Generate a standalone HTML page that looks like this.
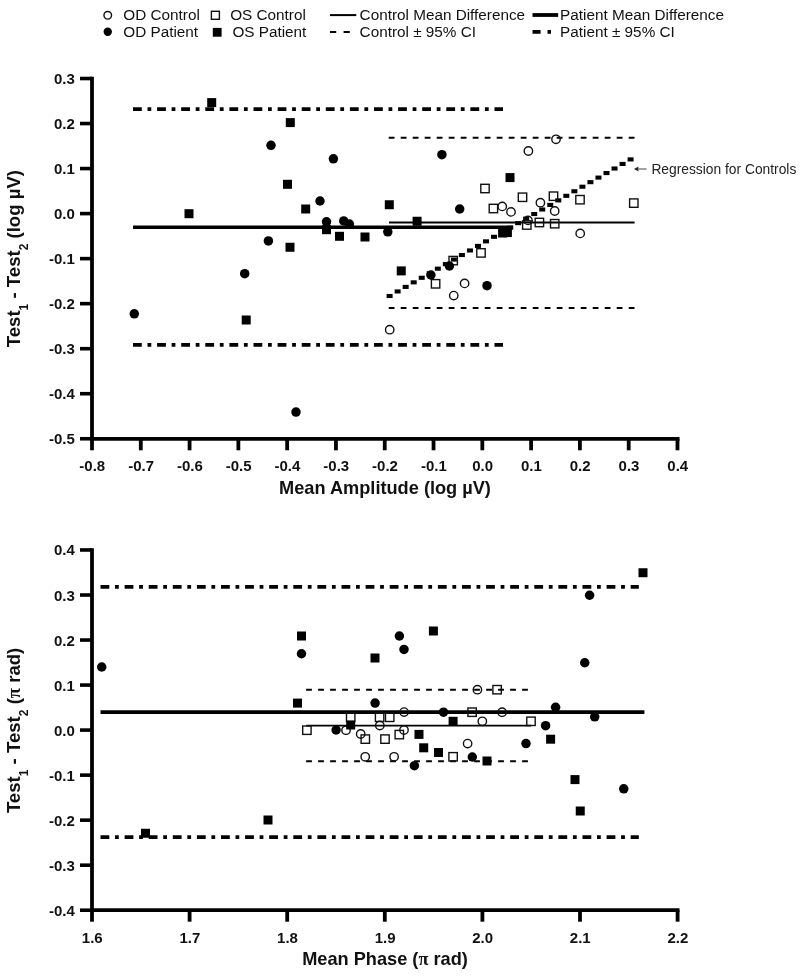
<!DOCTYPE html>
<html><head><meta charset="utf-8"><title>Bland-Altman plots</title>
<style>
html,body{margin:0;padding:0;background:#fff;}
body{width:800px;height:976px;overflow:hidden;}
svg{display:block;font-family:"Liberation Sans", sans-serif;will-change:transform;}
</style></head>
<body>
<svg width="800" height="976" viewBox="0 0 800 976">
<rect width="800" height="976" fill="#fff"/>
<circle cx="107.75" cy="15.30" r="3.8" fill="none" stroke="#111" stroke-width="1.4"/>
<circle cx="107.75" cy="31.80" r="4.2" fill="#000"/>
<text x="123.30" y="19.80" font-size="15.3" font-weight="normal" text-anchor="start" fill="#111">OD Control</text>
<text x="123.30" y="36.50" font-size="15.3" font-weight="normal" text-anchor="start" fill="#111">OD Patient</text>
<rect x="211.40" y="11.30" width="8.0" height="8.0" fill="none" stroke="#111" stroke-width="1.4"/>
<rect x="212.80" y="27.90" width="8.8" height="8.8" fill="#000"/>
<text x="230.20" y="19.80" font-size="15.3" font-weight="normal" text-anchor="start" fill="#111">OS Control</text>
<text x="232.40" y="36.50" font-size="15.3" font-weight="normal" text-anchor="start" fill="#111">OS Patient</text>
<line x1="330.00" y1="15.10" x2="356.30" y2="15.10" stroke="#000" stroke-width="2.0" stroke-linecap="butt"/>
<line x1="330.00" y1="31.90" x2="350.00" y2="31.90" stroke="#000" stroke-width="2.0" stroke-linecap="butt" stroke-dasharray="6.2 7.4"/>
<text x="359.60" y="19.80" font-size="15.3" font-weight="normal" text-anchor="start" fill="#111">Control Mean Difference</text>
<text x="359.60" y="36.50" font-size="15.3" font-weight="normal" text-anchor="start" fill="#111">Control ± 95% CI</text>
<line x1="532.50" y1="15.00" x2="558.20" y2="15.00" stroke="#000" stroke-width="3.8" stroke-linecap="butt"/>
<line x1="532.50" y1="31.90" x2="551.20" y2="31.90" stroke="#000" stroke-width="3.8" stroke-linecap="butt" stroke-dasharray="8.1 6.9 3.5 10"/>
<text x="560.10" y="19.80" font-size="15.3" font-weight="normal" text-anchor="start" fill="#111">Patient Mean Difference</text>
<text x="560.10" y="36.50" font-size="15.3" font-weight="normal" text-anchor="start" fill="#111">Patient ± 95% CI</text>
<line x1="92.00" y1="76.70" x2="92.00" y2="440.70" stroke="#000" stroke-width="3.8" stroke-linecap="butt"/>
<line x1="80.00" y1="78.51" x2="92.00" y2="78.51" stroke="#000" stroke-width="3.6" stroke-linecap="butt"/>
<text x="74.80" y="84.01" font-size="15" font-weight="bold" text-anchor="end" fill="#111">0.3</text>
<line x1="80.00" y1="123.54" x2="92.00" y2="123.54" stroke="#000" stroke-width="3.6" stroke-linecap="butt"/>
<text x="74.80" y="129.04" font-size="15" font-weight="bold" text-anchor="end" fill="#111">0.2</text>
<line x1="80.00" y1="168.57" x2="92.00" y2="168.57" stroke="#000" stroke-width="3.6" stroke-linecap="butt"/>
<text x="74.80" y="174.07" font-size="15" font-weight="bold" text-anchor="end" fill="#111">0.1</text>
<line x1="80.00" y1="213.60" x2="92.00" y2="213.60" stroke="#000" stroke-width="3.6" stroke-linecap="butt"/>
<text x="74.80" y="219.10" font-size="15" font-weight="bold" text-anchor="end" fill="#111">0.0</text>
<line x1="80.00" y1="258.63" x2="92.00" y2="258.63" stroke="#000" stroke-width="3.6" stroke-linecap="butt"/>
<text x="74.80" y="264.13" font-size="15" font-weight="bold" text-anchor="end" fill="#111">-0.1</text>
<line x1="80.00" y1="303.66" x2="92.00" y2="303.66" stroke="#000" stroke-width="3.6" stroke-linecap="butt"/>
<text x="74.80" y="309.16" font-size="15" font-weight="bold" text-anchor="end" fill="#111">-0.2</text>
<line x1="80.00" y1="348.69" x2="92.00" y2="348.69" stroke="#000" stroke-width="3.6" stroke-linecap="butt"/>
<text x="74.80" y="354.19" font-size="15" font-weight="bold" text-anchor="end" fill="#111">-0.3</text>
<line x1="80.00" y1="393.72" x2="92.00" y2="393.72" stroke="#000" stroke-width="3.6" stroke-linecap="butt"/>
<text x="74.80" y="399.22" font-size="15" font-weight="bold" text-anchor="end" fill="#111">-0.4</text>
<line x1="80.00" y1="438.75" x2="92.00" y2="438.75" stroke="#000" stroke-width="3.6" stroke-linecap="butt"/>
<text x="74.80" y="444.25" font-size="15" font-weight="bold" text-anchor="end" fill="#111">-0.5</text>
<line x1="90.10" y1="438.80" x2="679.50" y2="438.80" stroke="#000" stroke-width="3.8" stroke-linecap="butt"/>
<line x1="92.00" y1="438.80" x2="92.00" y2="450.30" stroke="#000" stroke-width="3.8" stroke-linecap="butt"/>
<text x="92.30" y="471.40" font-size="15" font-weight="bold" text-anchor="middle" fill="#111">-0.8</text>
<line x1="140.79" y1="438.80" x2="140.79" y2="450.30" stroke="#000" stroke-width="3.8" stroke-linecap="butt"/>
<text x="141.09" y="471.40" font-size="15" font-weight="bold" text-anchor="middle" fill="#111">-0.7</text>
<line x1="189.58" y1="438.80" x2="189.58" y2="450.30" stroke="#000" stroke-width="3.8" stroke-linecap="butt"/>
<text x="189.88" y="471.40" font-size="15" font-weight="bold" text-anchor="middle" fill="#111">-0.6</text>
<line x1="238.37" y1="438.80" x2="238.37" y2="450.30" stroke="#000" stroke-width="3.8" stroke-linecap="butt"/>
<text x="238.67" y="471.40" font-size="15" font-weight="bold" text-anchor="middle" fill="#111">-0.5</text>
<line x1="287.16" y1="438.80" x2="287.16" y2="450.30" stroke="#000" stroke-width="3.8" stroke-linecap="butt"/>
<text x="287.46" y="471.40" font-size="15" font-weight="bold" text-anchor="middle" fill="#111">-0.4</text>
<line x1="335.95" y1="438.80" x2="335.95" y2="450.30" stroke="#000" stroke-width="3.8" stroke-linecap="butt"/>
<text x="336.25" y="471.40" font-size="15" font-weight="bold" text-anchor="middle" fill="#111">-0.3</text>
<line x1="384.74" y1="438.80" x2="384.74" y2="450.30" stroke="#000" stroke-width="3.8" stroke-linecap="butt"/>
<text x="385.04" y="471.40" font-size="15" font-weight="bold" text-anchor="middle" fill="#111">-0.2</text>
<line x1="433.53" y1="438.80" x2="433.53" y2="450.30" stroke="#000" stroke-width="3.8" stroke-linecap="butt"/>
<text x="433.83" y="471.40" font-size="15" font-weight="bold" text-anchor="middle" fill="#111">-0.1</text>
<line x1="482.32" y1="438.80" x2="482.32" y2="450.30" stroke="#000" stroke-width="3.8" stroke-linecap="butt"/>
<text x="482.62" y="471.40" font-size="15" font-weight="bold" text-anchor="middle" fill="#111">0.0</text>
<line x1="531.11" y1="438.80" x2="531.11" y2="450.30" stroke="#000" stroke-width="3.8" stroke-linecap="butt"/>
<text x="531.41" y="471.40" font-size="15" font-weight="bold" text-anchor="middle" fill="#111">0.1</text>
<line x1="579.90" y1="438.80" x2="579.90" y2="450.30" stroke="#000" stroke-width="3.8" stroke-linecap="butt"/>
<text x="580.20" y="471.40" font-size="15" font-weight="bold" text-anchor="middle" fill="#111">0.2</text>
<line x1="628.69" y1="438.80" x2="628.69" y2="450.30" stroke="#000" stroke-width="3.8" stroke-linecap="butt"/>
<text x="628.99" y="471.40" font-size="15" font-weight="bold" text-anchor="middle" fill="#111">0.3</text>
<line x1="677.48" y1="438.80" x2="677.48" y2="450.30" stroke="#000" stroke-width="3.8" stroke-linecap="butt"/>
<text x="677.78" y="471.40" font-size="15" font-weight="bold" text-anchor="middle" fill="#111">0.4</text>
<line x1="133.00" y1="109.10" x2="503.00" y2="109.10" stroke="#000" stroke-width="3.8" stroke-linecap="butt" stroke-dasharray="8.8 5.7 3.8 5.8"/>
<line x1="133.00" y1="344.80" x2="503.00" y2="344.80" stroke="#000" stroke-width="3.8" stroke-linecap="butt" stroke-dasharray="8.8 5.7 3.8 5.8"/>
<line x1="133.00" y1="227.30" x2="513.20" y2="227.30" stroke="#000" stroke-width="3.6" stroke-linecap="butt"/>
<line x1="388.70" y1="137.70" x2="635.00" y2="137.70" stroke="#000" stroke-width="2.0" stroke-linecap="butt" stroke-dasharray="5.8 6.2"/>
<line x1="388.70" y1="308.00" x2="635.00" y2="308.00" stroke="#000" stroke-width="2.0" stroke-linecap="butt" stroke-dasharray="5.8 6.2"/>
<line x1="389.00" y1="222.50" x2="634.60" y2="222.50" stroke="#000" stroke-width="1.8" stroke-linecap="butt"/>
<rect x="386.60" y="293.95" width="6.0" height="4.1" fill="#000"/>
<rect x="394.63" y="289.40" width="6.0" height="4.1" fill="#000"/>
<rect x="402.67" y="284.84" width="6.0" height="4.1" fill="#000"/>
<rect x="410.70" y="280.29" width="6.0" height="4.1" fill="#000"/>
<rect x="418.73" y="275.74" width="6.0" height="4.1" fill="#000"/>
<rect x="426.77" y="271.18" width="6.0" height="4.1" fill="#000"/>
<rect x="434.80" y="266.63" width="6.0" height="4.1" fill="#000"/>
<rect x="442.83" y="262.08" width="6.0" height="4.1" fill="#000"/>
<rect x="450.87" y="257.52" width="6.0" height="4.1" fill="#000"/>
<rect x="458.90" y="252.97" width="6.0" height="4.1" fill="#000"/>
<rect x="466.93" y="248.42" width="6.0" height="4.1" fill="#000"/>
<rect x="474.97" y="243.86" width="6.0" height="4.1" fill="#000"/>
<rect x="483.00" y="239.31" width="6.0" height="4.1" fill="#000"/>
<rect x="491.03" y="234.76" width="6.0" height="4.1" fill="#000"/>
<rect x="499.07" y="230.20" width="6.0" height="4.1" fill="#000"/>
<rect x="507.10" y="225.65" width="6.0" height="4.1" fill="#000"/>
<rect x="515.13" y="221.10" width="6.0" height="4.1" fill="#000"/>
<rect x="523.17" y="216.54" width="6.0" height="4.1" fill="#000"/>
<rect x="531.20" y="211.99" width="6.0" height="4.1" fill="#000"/>
<rect x="539.23" y="207.44" width="6.0" height="4.1" fill="#000"/>
<rect x="547.27" y="202.88" width="6.0" height="4.1" fill="#000"/>
<rect x="555.30" y="198.33" width="6.0" height="4.1" fill="#000"/>
<rect x="563.33" y="193.78" width="6.0" height="4.1" fill="#000"/>
<rect x="571.37" y="189.22" width="6.0" height="4.1" fill="#000"/>
<rect x="579.40" y="184.67" width="6.0" height="4.1" fill="#000"/>
<rect x="587.43" y="180.12" width="6.0" height="4.1" fill="#000"/>
<rect x="595.47" y="175.56" width="6.0" height="4.1" fill="#000"/>
<rect x="603.50" y="171.01" width="6.0" height="4.1" fill="#000"/>
<rect x="611.53" y="166.46" width="6.0" height="4.1" fill="#000"/>
<rect x="619.57" y="161.90" width="6.0" height="4.1" fill="#000"/>
<rect x="627.60" y="157.35" width="6.0" height="4.1" fill="#000"/>
<line x1="637.50" y1="169.00" x2="646.60" y2="169.00" stroke="#444" stroke-width="1.0" stroke-linecap="butt"/>
<path d="M634.0 169.0 L638.6 166.6 L638.0 169.0 L638.6 171.4 Z" fill="#222"/>
<text x="651.40" y="173.50" font-size="13.8" font-weight="normal" text-anchor="start" fill="#222">Regression for Controls</text>
<rect x="480.80" y="184.30" width="8.4" height="8.4" fill="none" stroke="#111" stroke-width="1.4"/>
<rect x="518.30" y="193.05" width="8.4" height="8.4" fill="none" stroke="#111" stroke-width="1.4"/>
<rect x="489.20" y="204.30" width="8.4" height="8.4" fill="none" stroke="#111" stroke-width="1.4"/>
<rect x="549.30" y="192.00" width="8.4" height="8.4" fill="none" stroke="#111" stroke-width="1.4"/>
<rect x="575.80" y="195.50" width="8.4" height="8.4" fill="none" stroke="#111" stroke-width="1.4"/>
<rect x="629.60" y="198.90" width="8.4" height="8.4" fill="none" stroke="#111" stroke-width="1.4"/>
<rect x="535.20" y="218.30" width="8.4" height="8.4" fill="none" stroke="#111" stroke-width="1.4"/>
<rect x="550.50" y="219.50" width="8.4" height="8.4" fill="none" stroke="#111" stroke-width="1.4"/>
<rect x="522.60" y="220.80" width="8.4" height="8.4" fill="none" stroke="#111" stroke-width="1.4"/>
<rect x="476.80" y="248.70" width="8.4" height="8.4" fill="none" stroke="#111" stroke-width="1.4"/>
<rect x="449.00" y="256.40" width="8.4" height="8.4" fill="none" stroke="#111" stroke-width="1.4"/>
<rect x="431.40" y="279.60" width="8.4" height="8.4" fill="none" stroke="#111" stroke-width="1.4"/>
<circle cx="556.00" cy="139.30" r="4.2" fill="none" stroke="#111" stroke-width="1.4"/>
<circle cx="528.40" cy="151.00" r="4.2" fill="none" stroke="#111" stroke-width="1.4"/>
<circle cx="502.25" cy="206.40" r="4.2" fill="none" stroke="#111" stroke-width="1.4"/>
<circle cx="511.00" cy="211.90" r="4.2" fill="none" stroke="#111" stroke-width="1.4"/>
<circle cx="540.40" cy="202.70" r="4.2" fill="none" stroke="#111" stroke-width="1.4"/>
<circle cx="554.70" cy="211.00" r="4.2" fill="none" stroke="#111" stroke-width="1.4"/>
<circle cx="528.00" cy="220.40" r="4.2" fill="none" stroke="#111" stroke-width="1.4"/>
<circle cx="580.20" cy="233.40" r="4.2" fill="none" stroke="#111" stroke-width="1.4"/>
<circle cx="464.60" cy="283.40" r="4.2" fill="none" stroke="#111" stroke-width="1.4"/>
<circle cx="453.75" cy="295.60" r="4.2" fill="none" stroke="#111" stroke-width="1.4"/>
<circle cx="389.70" cy="329.70" r="4.2" fill="none" stroke="#111" stroke-width="1.4"/>
<rect x="207.20" y="98.10" width="9.0" height="9.0" fill="#000"/>
<rect x="285.80" y="118.10" width="9.0" height="9.0" fill="#000"/>
<rect x="184.50" y="209.20" width="9.0" height="9.0" fill="#000"/>
<rect x="283.00" y="179.80" width="9.0" height="9.0" fill="#000"/>
<rect x="301.20" y="204.50" width="9.0" height="9.0" fill="#000"/>
<rect x="285.50" y="242.75" width="9.0" height="9.0" fill="#000"/>
<rect x="322.00" y="225.20" width="9.0" height="9.0" fill="#000"/>
<rect x="335.00" y="231.80" width="9.0" height="9.0" fill="#000"/>
<rect x="360.50" y="232.50" width="9.0" height="9.0" fill="#000"/>
<rect x="384.80" y="200.25" width="9.0" height="9.0" fill="#000"/>
<rect x="396.75" y="266.40" width="9.0" height="9.0" fill="#000"/>
<rect x="412.60" y="216.75" width="9.0" height="9.0" fill="#000"/>
<rect x="505.50" y="173.10" width="9.0" height="9.0" fill="#000"/>
<rect x="241.70" y="315.50" width="9.0" height="9.0" fill="#000"/>
<rect x="498.10" y="228.50" width="9.0" height="9.0" fill="#000"/>
<rect x="502.90" y="228.10" width="9.0" height="9.0" fill="#000"/>
<circle cx="271.00" cy="145.30" r="4.75" fill="#000"/>
<circle cx="333.40" cy="158.80" r="4.75" fill="#000"/>
<circle cx="320.00" cy="201.00" r="4.75" fill="#000"/>
<circle cx="326.50" cy="221.80" r="4.75" fill="#000"/>
<circle cx="343.75" cy="220.90" r="4.75" fill="#000"/>
<circle cx="349.40" cy="224.00" r="4.75" fill="#000"/>
<circle cx="387.80" cy="231.80" r="4.75" fill="#000"/>
<circle cx="441.90" cy="154.70" r="4.75" fill="#000"/>
<circle cx="459.70" cy="209.00" r="4.75" fill="#000"/>
<circle cx="268.40" cy="240.90" r="4.75" fill="#000"/>
<circle cx="244.70" cy="273.70" r="4.75" fill="#000"/>
<circle cx="134.30" cy="313.80" r="4.75" fill="#000"/>
<circle cx="296.00" cy="412.10" r="4.75" fill="#000"/>
<circle cx="430.90" cy="275.00" r="4.75" fill="#000"/>
<circle cx="449.40" cy="266.00" r="4.75" fill="#000"/>
<circle cx="487.00" cy="285.70" r="4.75" fill="#000"/>
<text x="385.00" y="493.80" font-size="18.2" font-weight="bold" text-anchor="middle" fill="#111">Mean Amplitude (log µV)</text>
<line x1="92.00" y1="548.20" x2="92.00" y2="912.10" stroke="#000" stroke-width="3.8" stroke-linecap="butt"/>
<line x1="80.00" y1="549.98" x2="92.00" y2="549.98" stroke="#000" stroke-width="3.6" stroke-linecap="butt"/>
<text x="74.80" y="555.48" font-size="15" font-weight="bold" text-anchor="end" fill="#111">0.4</text>
<line x1="80.00" y1="595.01" x2="92.00" y2="595.01" stroke="#000" stroke-width="3.6" stroke-linecap="butt"/>
<text x="74.80" y="600.51" font-size="15" font-weight="bold" text-anchor="end" fill="#111">0.3</text>
<line x1="80.00" y1="640.04" x2="92.00" y2="640.04" stroke="#000" stroke-width="3.6" stroke-linecap="butt"/>
<text x="74.80" y="645.54" font-size="15" font-weight="bold" text-anchor="end" fill="#111">0.2</text>
<line x1="80.00" y1="685.07" x2="92.00" y2="685.07" stroke="#000" stroke-width="3.6" stroke-linecap="butt"/>
<text x="74.80" y="690.57" font-size="15" font-weight="bold" text-anchor="end" fill="#111">0.1</text>
<line x1="80.00" y1="730.10" x2="92.00" y2="730.10" stroke="#000" stroke-width="3.6" stroke-linecap="butt"/>
<text x="74.80" y="735.60" font-size="15" font-weight="bold" text-anchor="end" fill="#111">0.0</text>
<line x1="80.00" y1="775.13" x2="92.00" y2="775.13" stroke="#000" stroke-width="3.6" stroke-linecap="butt"/>
<text x="74.80" y="780.63" font-size="15" font-weight="bold" text-anchor="end" fill="#111">-0.1</text>
<line x1="80.00" y1="820.16" x2="92.00" y2="820.16" stroke="#000" stroke-width="3.6" stroke-linecap="butt"/>
<text x="74.80" y="825.66" font-size="15" font-weight="bold" text-anchor="end" fill="#111">-0.2</text>
<line x1="80.00" y1="865.19" x2="92.00" y2="865.19" stroke="#000" stroke-width="3.6" stroke-linecap="butt"/>
<text x="74.80" y="870.69" font-size="15" font-weight="bold" text-anchor="end" fill="#111">-0.3</text>
<line x1="80.00" y1="910.22" x2="92.00" y2="910.22" stroke="#000" stroke-width="3.6" stroke-linecap="butt"/>
<text x="74.80" y="915.72" font-size="15" font-weight="bold" text-anchor="end" fill="#111">-0.4</text>
<line x1="90.10" y1="910.20" x2="679.50" y2="910.20" stroke="#000" stroke-width="3.8" stroke-linecap="butt"/>
<line x1="92.00" y1="910.20" x2="92.00" y2="921.70" stroke="#000" stroke-width="3.8" stroke-linecap="butt"/>
<text x="92.30" y="942.80" font-size="15" font-weight="bold" text-anchor="middle" fill="#111">1.6</text>
<line x1="189.60" y1="910.20" x2="189.60" y2="921.70" stroke="#000" stroke-width="3.8" stroke-linecap="butt"/>
<text x="189.90" y="942.80" font-size="15" font-weight="bold" text-anchor="middle" fill="#111">1.7</text>
<line x1="287.20" y1="910.20" x2="287.20" y2="921.70" stroke="#000" stroke-width="3.8" stroke-linecap="butt"/>
<text x="287.50" y="942.80" font-size="15" font-weight="bold" text-anchor="middle" fill="#111">1.8</text>
<line x1="384.80" y1="910.20" x2="384.80" y2="921.70" stroke="#000" stroke-width="3.8" stroke-linecap="butt"/>
<text x="385.10" y="942.80" font-size="15" font-weight="bold" text-anchor="middle" fill="#111">1.9</text>
<line x1="482.40" y1="910.20" x2="482.40" y2="921.70" stroke="#000" stroke-width="3.8" stroke-linecap="butt"/>
<text x="482.70" y="942.80" font-size="15" font-weight="bold" text-anchor="middle" fill="#111">2.0</text>
<line x1="580.00" y1="910.20" x2="580.00" y2="921.70" stroke="#000" stroke-width="3.8" stroke-linecap="butt"/>
<text x="580.30" y="942.80" font-size="15" font-weight="bold" text-anchor="middle" fill="#111">2.1</text>
<line x1="677.60" y1="910.20" x2="677.60" y2="921.70" stroke="#000" stroke-width="3.8" stroke-linecap="butt"/>
<text x="677.90" y="942.80" font-size="15" font-weight="bold" text-anchor="middle" fill="#111">2.2</text>
<line x1="100.50" y1="586.80" x2="638.80" y2="586.80" stroke="#000" stroke-width="3.8" stroke-linecap="butt" stroke-dasharray="8.8 5.7 3.8 5.8"/>
<line x1="100.50" y1="837.10" x2="638.80" y2="837.10" stroke="#000" stroke-width="3.8" stroke-linecap="butt" stroke-dasharray="8.8 5.7 3.8 5.8"/>
<line x1="100.50" y1="712.10" x2="644.40" y2="712.10" stroke="#000" stroke-width="3.6" stroke-linecap="butt"/>
<line x1="306.10" y1="689.70" x2="528.60" y2="689.70" stroke="#000" stroke-width="2.0" stroke-linecap="butt" stroke-dasharray="5.8 6.2"/>
<line x1="306.10" y1="761.20" x2="528.60" y2="761.20" stroke="#000" stroke-width="2.0" stroke-linecap="butt" stroke-dasharray="5.8 6.2"/>
<line x1="306.30" y1="725.70" x2="531.00" y2="725.70" stroke="#000" stroke-width="1.8" stroke-linecap="butt"/>
<rect x="346.50" y="713.10" width="8.4" height="8.4" fill="none" stroke="#111" stroke-width="1.4"/>
<rect x="375.40" y="713.10" width="8.4" height="8.4" fill="none" stroke="#111" stroke-width="1.4"/>
<rect x="385.50" y="713.10" width="8.4" height="8.4" fill="none" stroke="#111" stroke-width="1.4"/>
<rect x="302.70" y="726.00" width="8.4" height="8.4" fill="none" stroke="#111" stroke-width="1.4"/>
<rect x="361.10" y="734.90" width="8.4" height="8.4" fill="none" stroke="#111" stroke-width="1.4"/>
<rect x="380.80" y="734.90" width="8.4" height="8.4" fill="none" stroke="#111" stroke-width="1.4"/>
<rect x="395.10" y="730.40" width="8.4" height="8.4" fill="none" stroke="#111" stroke-width="1.4"/>
<rect x="448.90" y="752.60" width="8.4" height="8.4" fill="none" stroke="#111" stroke-width="1.4"/>
<rect x="467.90" y="708.00" width="8.4" height="8.4" fill="none" stroke="#111" stroke-width="1.4"/>
<rect x="526.80" y="717.10" width="8.4" height="8.4" fill="none" stroke="#111" stroke-width="1.4"/>
<rect x="492.90" y="685.50" width="8.4" height="8.4" fill="none" stroke="#111" stroke-width="1.4"/>
<circle cx="404.10" cy="712.10" r="4.2" fill="none" stroke="#111" stroke-width="1.4"/>
<circle cx="379.80" cy="725.50" r="4.2" fill="none" stroke="#111" stroke-width="1.4"/>
<circle cx="346.00" cy="730.20" r="4.2" fill="none" stroke="#111" stroke-width="1.4"/>
<circle cx="360.70" cy="734.00" r="4.2" fill="none" stroke="#111" stroke-width="1.4"/>
<circle cx="404.00" cy="730.00" r="4.2" fill="none" stroke="#111" stroke-width="1.4"/>
<circle cx="365.20" cy="756.80" r="4.2" fill="none" stroke="#111" stroke-width="1.4"/>
<circle cx="394.10" cy="756.80" r="4.2" fill="none" stroke="#111" stroke-width="1.4"/>
<circle cx="467.60" cy="743.60" r="4.2" fill="none" stroke="#111" stroke-width="1.4"/>
<circle cx="482.30" cy="721.30" r="4.2" fill="none" stroke="#111" stroke-width="1.4"/>
<circle cx="502.10" cy="712.20" r="4.2" fill="none" stroke="#111" stroke-width="1.4"/>
<circle cx="477.40" cy="689.70" r="4.2" fill="none" stroke="#111" stroke-width="1.4"/>
<rect x="297.00" y="631.50" width="9.0" height="9.0" fill="#000"/>
<rect x="370.50" y="653.50" width="9.0" height="9.0" fill="#000"/>
<rect x="428.90" y="626.50" width="9.0" height="9.0" fill="#000"/>
<rect x="293.00" y="698.60" width="9.0" height="9.0" fill="#000"/>
<rect x="346.20" y="720.50" width="9.0" height="9.0" fill="#000"/>
<rect x="414.50" y="729.90" width="9.0" height="9.0" fill="#000"/>
<rect x="419.20" y="743.30" width="9.0" height="9.0" fill="#000"/>
<rect x="434.00" y="748.00" width="9.0" height="9.0" fill="#000"/>
<rect x="448.60" y="716.80" width="9.0" height="9.0" fill="#000"/>
<rect x="482.50" y="756.50" width="9.0" height="9.0" fill="#000"/>
<rect x="546.10" y="734.70" width="9.0" height="9.0" fill="#000"/>
<rect x="570.50" y="775.10" width="9.0" height="9.0" fill="#000"/>
<rect x="575.75" y="806.50" width="9.0" height="9.0" fill="#000"/>
<rect x="638.50" y="568.25" width="9.0" height="9.0" fill="#000"/>
<rect x="141.00" y="828.75" width="9.0" height="9.0" fill="#000"/>
<rect x="263.50" y="815.50" width="9.0" height="9.0" fill="#000"/>
<circle cx="101.75" cy="667.00" r="4.75" fill="#000"/>
<circle cx="301.50" cy="653.75" r="4.75" fill="#000"/>
<circle cx="399.40" cy="636.00" r="4.75" fill="#000"/>
<circle cx="404.00" cy="649.40" r="4.75" fill="#000"/>
<circle cx="375.10" cy="703.10" r="4.75" fill="#000"/>
<circle cx="336.10" cy="730.00" r="4.75" fill="#000"/>
<circle cx="414.40" cy="765.70" r="4.75" fill="#000"/>
<circle cx="443.50" cy="712.20" r="4.75" fill="#000"/>
<circle cx="472.30" cy="757.00" r="4.75" fill="#000"/>
<circle cx="526.00" cy="743.60" r="4.75" fill="#000"/>
<circle cx="545.60" cy="725.70" r="4.75" fill="#000"/>
<circle cx="555.60" cy="707.30" r="4.75" fill="#000"/>
<circle cx="594.70" cy="716.80" r="4.75" fill="#000"/>
<circle cx="589.60" cy="595.25" r="4.75" fill="#000"/>
<circle cx="584.75" cy="662.75" r="4.75" fill="#000"/>
<circle cx="623.75" cy="788.80" r="4.75" fill="#000"/>
<text x="385.00" y="964.50" font-size="18.2" font-weight="bold" text-anchor="middle" fill="#111">Mean Phase (<tspan font-family="Liberation Serif" font-weight="bold">π</tspan> rad)</text>
<text transform="translate(20.3,258.6) rotate(-90)" x="0" y="0" font-size="18.6" font-weight="bold" text-anchor="middle" fill="#111">Test<tspan font-size="12" font-weight="bold" dy="7.5">1</tspan><tspan dy="-7.5"> - Test</tspan><tspan font-size="12" font-weight="bold" dy="7.5">2</tspan><tspan dy="-7.5"> (log µV)</tspan></text>
<text transform="translate(20.3,730.4) rotate(-90)" x="0" y="0" font-size="18.6" font-weight="bold" text-anchor="middle" fill="#111">Test<tspan font-size="12" font-weight="bold" dy="7.5">1</tspan><tspan dy="-7.5"> - Test</tspan><tspan font-size="12" font-weight="bold" dy="7.5">2</tspan><tspan dy="-7.5"> (<tspan font-family="Liberation Serif" font-weight="bold">π</tspan> rad)</tspan></text>
</svg>
</body></html>
